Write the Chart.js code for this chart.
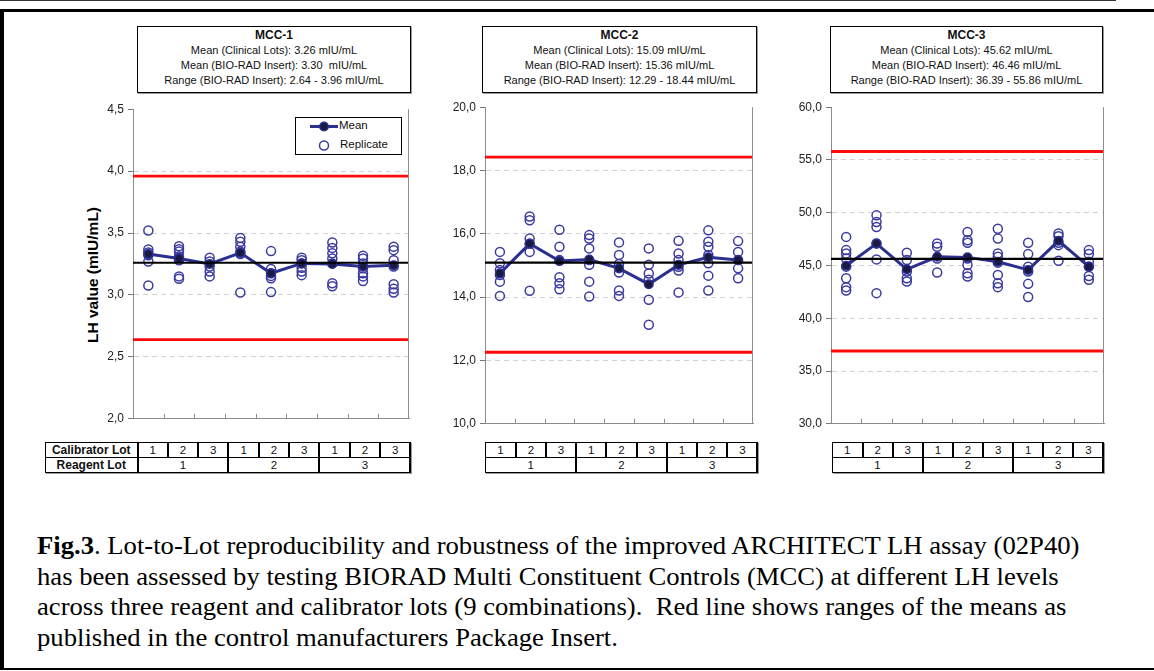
<!DOCTYPE html>
<html><head><meta charset="utf-8">
<script src="https://cdn.jsdelivr.net/npm/chart.js@4.4.1/dist/chart.umd.min.js"></script>
<style>
html,body{margin:0;padding:0;background:#fff;width:1154px;height:671px;overflow:hidden;font-family:"Liberation Sans",Arial,sans-serif;}
#root{position:relative;width:1154px;height:671px;overflow:hidden;}
.abs{position:absolute;}
.tbox{position:absolute;border:1px solid #000;box-shadow:1px 1px 0 #999;background:#fff;text-align:center;color:#111;white-space:pre;box-sizing:border-box;padding-top:0px;}
.tbox .h{font-weight:bold;font-size:12px;line-height:16px;}
.tbox .l{font-size:11px;line-height:15px;}
table.lots{position:absolute;border-collapse:collapse;table-layout:fixed;font-size:11.5px;color:#111;box-shadow:1px 1px 0 #999;}
table.lots td{border:1px solid #000;padding:0;height:14px;line-height:13px;text-align:center;overflow:hidden;white-space:nowrap;}
table.lots td.lab{font-weight:bold;font-size:12px;}
table.lots td.g{border-right:2px solid #000;}
#caption{position:absolute;left:37px;top:531px;font-family:"Liberation Serif","Times New Roman",serif;font-size:25px;line-height:30.7px;color:#000;white-space:nowrap;transform:scaleX(1.066);transform-origin:0 0;}
</style></head><body>
<div id="root">
  <div class="abs" style="left:0;top:0;width:1116px;height:1px;background:#333;"></div>
  <div class="abs" style="left:0;top:9px;width:1170px;height:656px;border-left:4px solid #000;border-top:3px solid #000;border-bottom:2px solid #000;"></div>
  <div id="boxes"></div>
  <div id="ytitle" class="abs" style="left:93px;top:275px;width:0;height:0;">
    <div style="position:absolute;transform:translate(-50%,-50%) rotate(-90deg);font-weight:bold;font-size:15.5px;white-space:nowrap;color:#000;">LH value (mIU/mL)</div>
  </div>
  <canvas id="c1" class="abs"></canvas>
  <canvas id="c2" class="abs"></canvas>
  <canvas id="c3" class="abs"></canvas>
  <div id="legend" class="abs" style="left:295px;top:117px;width:107px;height:38px;border:1px solid #000;background:#fff;box-sizing:border-box;font-size:11.5px;color:#111;">
    <svg class="abs" style="left:0;top:0;" width="44" height="36">
      <line x1="14" y1="8.5" x2="42" y2="8.5" stroke="#2b2f8f" stroke-width="3"/>
      <circle cx="28" cy="8.5" r="4.3" fill="#1a1a40" stroke="#2b2f8f" stroke-width="1.5"/>
      <circle cx="28" cy="27.5" r="4.5" fill="none" stroke="#3a3aa0" stroke-width="1.5"/>
    </svg>
    <span class="abs" style="left:43px;top:1px;">Mean</span>
    <span class="abs" style="left:44px;top:20px;">Replicate</span>
  </div>
  <div id="tables"></div>
  <div id="caption"><b>Fig.3</b>. Lot-to-Lot reproducibility and robustness of the improved ARCHITECT LH assay (02P40)<br>has been assessed by testing BIORAD Multi Constituent Controls (MCC) at different LH levels<br>across three reagent and calibrator lots (9 combinations).&nbsp; Red line shows ranges of the means as<br>published in the control manufacturers Package Insert.</div>
</div>
<script>
// ---------------- DATA ----------------
const calibratorLots = ['1','2','3','1','2','3','1','2','3'];
const reagentLots = ['1','2','3'];
const rowLabels = ['Calibrator Lot','Reagent Lot'];

const mcc1Title = ['MCC-1','Mean (Clinical Lots): 3.26 mIU/mL','Mean (BIO-RAD Insert): 3.30  mIU/mL','Range (BIO-RAD Insert): 2.64 - 3.96 mIU/mL'];
const mcc1Mean = [3.33, 3.295, 3.25, 3.34, 3.175, 3.255, 3.25, 3.23, 3.24];
const mcc1Replicates = [
  [3.52, 3.367, 3.343, 3.32, 3.27, 3.076],
  [3.394, 3.37, 3.35, 3.31, 3.28, 3.15, 3.13],
  [3.30, 3.27, 3.23, 3.19, 3.15],
  [3.46, 3.43, 3.39, 3.35, 3.33, 3.02],
  [3.354, 3.21, 3.175, 3.154, 3.135, 3.023],
  [3.30, 3.28, 3.255, 3.22, 3.19, 3.16],
  [3.424, 3.38, 3.336, 3.295, 3.255, 3.095, 3.07],
  [3.317, 3.295, 3.255, 3.215, 3.175, 3.15, 3.113],
  [3.39, 3.362, 3.28, 3.23, 3.087, 3.05, 3.02]
];
const mcc1ClinicalMean = 3.26;
const mcc1Limits = [2.64, 3.96];
const mcc1Axis = [2.0, 4.5, 0.5];

const mcc2Title = ['MCC-2','Mean (Clinical Lots): 15.09 mIU/mL','Mean (BIO-RAD Insert): 15.36 mIU/mL','Range (BIO-RAD Insert): 12.29 - 18.44 mIU/mL'];
const mcc2Mean = [14.75, 15.69, 15.14, 15.19, 14.91, 14.41, 15.02, 15.26, 15.17];
const mcc2Replicates = [
  [15.43, 15.07, 14.86, 14.70, 14.49, 14.04],
  [16.55, 16.43, 15.85, 15.69, 15.43, 14.20],
  [16.13, 15.59, 15.17, 14.63, 14.44, 14.25],
  [15.96, 15.85, 15.54, 15.17, 15.02, 14.49, 14.02],
  [15.73, 15.33, 15.05, 14.78, 14.21, 14.04],
  [15.54, 15.02, 14.75, 14.55, 13.92, 13.13],
  [15.78, 15.38, 15.17, 14.96, 14.84, 14.15],
  [16.11, 15.75, 15.59, 15.33, 15.07, 14.68, 14.21],
  [15.77, 15.43, 15.17, 14.91, 14.60]
];
const mcc2ClinicalMean = 15.09;
const mcc2Limits = [12.26, 18.42];
const mcc2Axis = [10, 20, 2];

const mcc3Title = ['MCC-3','Mean (Clinical Lots): 45.62 mIU/mL','Mean (BIO-RAD Insert): 46.46 mIU/mL','Range (BIO-RAD Insert): 36.39 - 55.86 mIU/mL'];
const mcc3Mean = [44.98, 47.08, 44.64, 45.83, 45.77, 45.36, 44.58, 47.34, 44.89];
const mcc3Replicates = [
  [47.71, 46.46, 46.14, 45.67, 44.89, 43.79, 42.95, 42.63],
  [49.75, 49.12, 48.65, 47.08, 45.58, 42.38],
  [46.21, 45.52, 44.42, 43.79, 43.48],
  [47.08, 46.77, 45.67, 44.33],
  [48.18, 47.40, 47.15, 45.67, 45.05, 44.26, 43.95],
  [48.49, 47.55, 46.14, 45.83, 45.27, 44.11, 43.32, 42.95],
  [47.15, 46.08, 44.89, 44.42, 43.26, 42.01],
  [48.03, 47.77, 47.15, 46.93, 45.45],
  [46.46, 46.08, 45.36, 44.89, 44.01, 43.64]
];
const mcc3ClinicalMean = 45.62;
const mcc3Limits = [36.9, 55.8];
const mcc3Axis = [30, 60, 5];

// ---------------- LAYOUT ----------------
const FONT = '"Liberation Sans", Arial, sans-serif';
const panels = [
  {cv:'c1', title:mcc1Title, mean:mcc1Mean, reps:mcc1Replicates, clin:mcc1ClinicalMean, lim:mcc1Limits, axis:mcc1Axis,
   area:{l:133,t:108,r:409,b:420}, box:{l:137,w:274}, table:{l:45,w:365,lab:92}},
  {cv:'c2', title:mcc2Title, mean:mcc2Mean, reps:mcc2Replicates, clin:mcc2ClinicalMean, lim:mcc2Limits, axis:mcc2Axis,
   area:{l:485,t:106,r:753,b:425}, box:{l:482,w:275}, table:{l:485,w:272,lab:0}},
  {cv:'c3', title:mcc3Title, mean:mcc3Mean, reps:mcc3Replicates, clin:mcc3ClinicalMean, lim:mcc3Limits, axis:mcc3Axis,
   area:{l:831,t:106,r:1104,b:425}, box:{l:830,w:273}, table:{l:832,w:271,lab:0}}
];

// title boxes
const boxes = document.getElementById('boxes');
panels.forEach(p => {
  const d = document.createElement('div');
  d.className = 'tbox';
  d.style.left = p.box.l + 'px'; d.style.top = '26px';
  d.style.width = p.box.w + 'px'; d.style.height = '67px';
  p.title.forEach((t, i) => {
    const s = document.createElement('div');
    s.className = i === 0 ? 'h' : 'l';
    s.textContent = t;
    d.appendChild(s);
  });
  boxes.appendChild(d);
});

// tables
const tables = document.getElementById('tables');
panels.forEach(p => {
  const T = p.table;
  const cellW = (T.w - T.lab) / calibratorLots.length;
  let html = '<table class="lots" style="left:' + T.l + 'px;top:442px;width:' + T.w + 'px;"><colgroup>';
  if (T.lab) html += '<col style="width:' + T.lab + 'px">';
  calibratorLots.forEach(() => { html += '<col style="width:' + cellW + 'px">'; });
  html += '</colgroup><tr>';
  if (T.lab) html += '<td class="lab g">' + rowLabels[0] + '</td>';
  calibratorLots.forEach((c, i) => {
    html += '<td class="g">' + c + '</td>';
  });
  html += '</tr><tr>';
  if (T.lab) html += '<td class="lab g">' + rowLabels[1] + '</td>';
  reagentLots.forEach(r => { html += '<td class="g" colspan="3">' + r + '</td>'; });
  html += '</tr></table>';
  tables.insertAdjacentHTML('beforeend', html);
});

// ---------------- CHARTS ----------------
const framePlugin = {
  id: 'frame',
  afterDraw(chart) {
    const {ctx, chartArea: a, scales: {x}} = chart;
    ctx.save();
    ctx.strokeStyle = '#8c8c8c';
    ctx.lineWidth = 1;
    ctx.beginPath();
    ctx.moveTo(Math.round(a.right) - 0.5, a.top);
    ctx.lineTo(Math.round(a.right) - 0.5, a.bottom);
    for (let i = 1; i < calibratorLots.length; i++) {
      const px = Math.round(x.getPixelForValue(i + 0.5)) + 0.5;
      ctx.moveTo(px, a.bottom);
      ctx.lineTo(px, a.bottom - 5);
    }
    ctx.stroke();
    ctx.restore();
  }
};

const YW = 50, PT = 10, PR = 6, PB = 9;
panels.forEach(p => {
  const cv = document.getElementById(p.cv);
  const w = (p.area.r - p.area.l) + YW + PR;
  const h = (p.area.b - p.area.t) + PT + PB + 1;
  cv.width = w; cv.height = h;
  cv.style.left = (p.area.l - YW) + 'px';
  cv.style.top = (p.area.t - PT) + 'px';
  cv.style.width = w + 'px'; cv.style.height = h + 'px';
  const [ymin, ymax, step] = p.axis;
  const repData = [];
  p.reps.forEach((arr, i) => arr.forEach(v => repData.push({x: i + 1, y: v})));
  const hline = v => [{x: 0.5, y: v}, {x: calibratorLots.length + 0.5, y: v}];
  new Chart(cv, {
    type: 'line',
    data: {
      datasets: [
        {label: 'Clinical mean', data: hline(p.clin), borderColor: '#000', borderWidth: 2.2, pointRadius: 0, order: 0},
        {label: 'Mean', data: p.mean.map((v, i) => ({x: i + 1, y: v})), borderColor: '#2b2f8f', borderWidth: 3,
         pointRadius: 4.3, pointBackgroundColor: '#1a1a40', pointBorderColor: '#2b2f8f', pointBorderWidth: 1.5, order: 1},
        {label: 'Replicate', data: repData, showLine: false, pointRadius: 4.5, pointBorderWidth: 1.5,
         pointBorderColor: '#3a3aa0', pointBackgroundColor: 'rgba(0,0,0,0)', order: 2},
        {label: 'Upper', data: hline(p.lim[1]), borderColor: '#ff0a0a', borderWidth: 2.8, pointRadius: 0, order: 3},
        {label: 'Lower', data: hline(p.lim[0]), borderColor: '#ff0a0a', borderWidth: 2.8, pointRadius: 0, order: 3}
      ]
    },
    options: {
      responsive: false, animation: false, devicePixelRatio: 1,
      layout: {padding: {top: PT, right: PR, bottom: PB, left: 0}},
      plugins: {legend: {display: false}, tooltip: {enabled: false}},
      scales: {
        x: {type: 'linear', min: 0.5, max: calibratorLots.length + 0.5,
            ticks: {display: false}, grid: {display: false},
            border: {display: true, color: '#8c8c8c', width: 1},
            afterFit: s => { s.height = 1; }},
        y: {type: 'linear', min: ymin, max: ymax,
            ticks: {stepSize: step, color: '#222', padding: 4, font: {size: 12, family: FONT},
                    callback: v => Number(v).toFixed(1).replace('.', ',')},
            grid: {color: c => (c.tick && (Math.abs(c.tick.value - ymin) < 1e-9 || Math.abs(c.tick.value - ymax) < 1e-9)) ? 'rgba(0,0,0,0)' : '#d2d2d2',
                   tickColor: '#777', tickLength: 5, lineWidth: 1},
            border: {display: true, color: '#8c8c8c', width: 1, dash: [5, 4]},
            afterFit: s => { s.width = YW; }}
      }
    },
    plugins: [framePlugin]
  });
});
</script>
</body></html>
